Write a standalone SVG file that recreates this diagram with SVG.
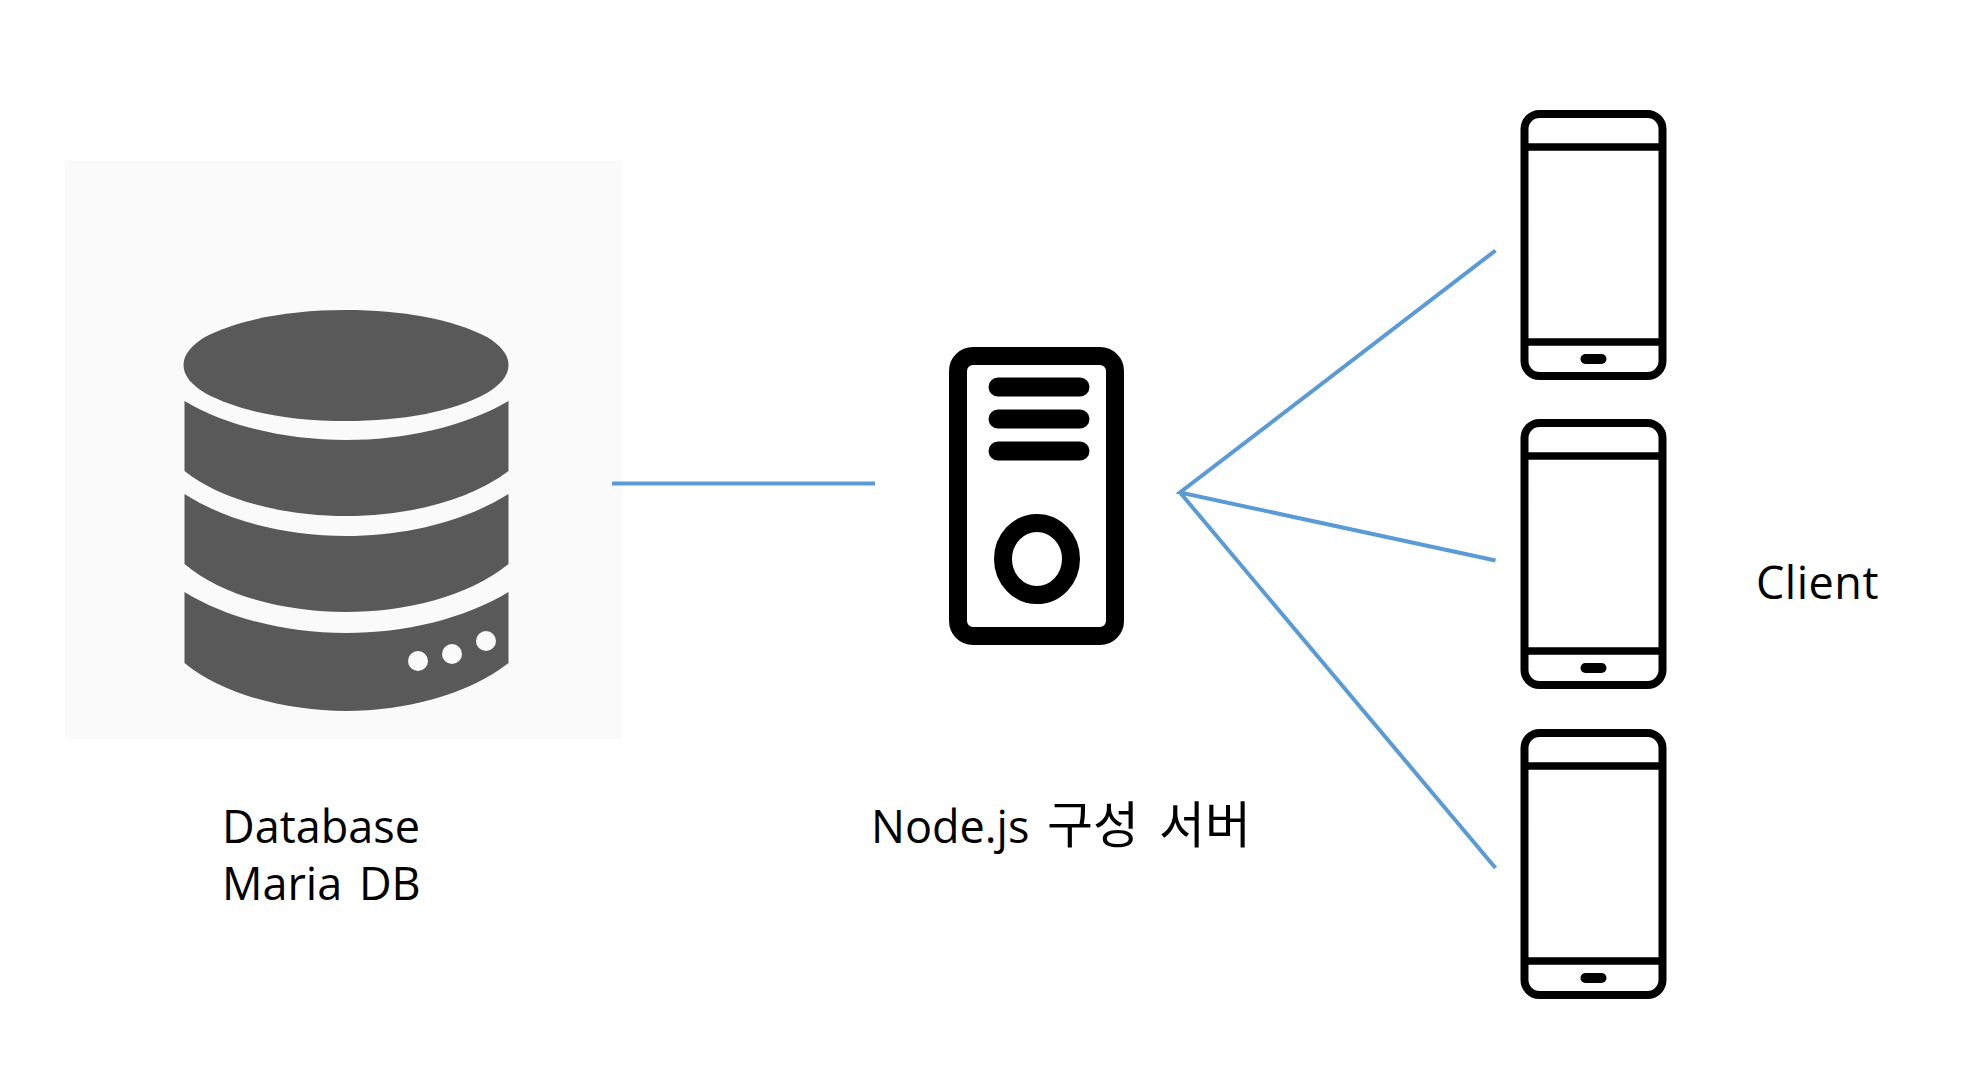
<svg xmlns="http://www.w3.org/2000/svg" xmlns:xlink="http://www.w3.org/1999/xlink" width="1964" height="1068" viewBox="0 0 1964 1068">
<style>
.t{font-family:"Open Sans","Noto Sans CJK KR",sans-serif;font-size:45px;fill:#000}
.k{font-family:"Noto Sans CJK KR",sans-serif;font-size:50px}
.c{stroke:#5b9bd5;stroke-width:4;fill:none}
.db{fill:#595959}
.o{fill:none;stroke:#000}
</style>
<defs>
<g id="phone">
<rect class="o" x="4" y="4" width="138" height="262" rx="15" stroke-width="8"/>
<path class="o" d="M4 37H142M4 232H142" stroke-width="7.500"/>
<rect x="60" y="244" width="26" height="10" rx="5" fill="#000"/>
</g>
</defs>
<rect width="1964" height="1068" fill="#fff"/>
<g id="database">
<rect x="65" y="161" width="557" height="578" fill="#fafafa"/>
<path class="db" d="M183.500 365C183.500 354 192 345 205 337C240 319 290 310 346 310C402 310 452 319 487 337C500 345 508.500 354 508.500 365C508.500 376 500 385 487 393C452 412 402 421 346 421C290 421 240 412 205 393C192 385 183.500 376 183.500 365Z"/>
<path class="db" d="M184.500 401C228 427 288 440 346 440C404 440 464 427 508.500 401V471C468 502 404 516 346 516C288 516 223 502 184.500 471Z"/>
<path class="db" d="M184.500 494C228 522 288 536 346 536C404 536 464 522 508.500 494V564C468 597 404 612 346 612C288 612 223 597 184.500 564Z"/>
<path class="db" d="M184.500 592C228 619 288 633 346 633C404 633 464 619 508.500 592V663C468 695 404 711 346 711C288 711 223 695 184.500 663Z"/>
<g fill="#fafafa"><circle cx="418" cy="661" r="10"/><circle cx="452" cy="654" r="10"/><circle cx="486" cy="641" r="10"/></g>
<text class="t" x="222" y="843">Database</text>
<text class="t" x="222" y="900" word-spacing="5">Maria DB</text>
</g>
<g id="server">
<rect class="o" x="958" y="356" width="157" height="280" rx="15" stroke-width="18"/>
<g stroke="#000" stroke-width="19" stroke-linecap="round"><path d="M998 387H1080M998 419H1080M998 451H1080"/></g>
<ellipse class="o" cx="1037" cy="559" rx="34" ry="36" stroke-width="18"/>
<text class="t" x="871" y="843">Node.js<tspan class="k" x="1047">구성</tspan><tspan class="k" x="1159">서버</tspan></text>
</g>
<g id="client">
<use id="phone1" xlink:href="#phone" href="#phone" x="1520.500" y="110"/>
<use id="phone2" xlink:href="#phone" href="#phone" x="1520.500" y="419"/>
<use id="phone3" xlink:href="#phone" href="#phone" x="1520.500" y="729"/>
<text class="t" x="1756" y="598.500" letter-spacing="0.500">Client</text>
</g>
<g id="connectors">
<path class="c" d="M612 483.500H875"/>
<path class="c" d="M1495.500 250.500L1180 492.500L1495.500 560.500M1180 492.500L1495.500 868"/>
</g>
</svg>
